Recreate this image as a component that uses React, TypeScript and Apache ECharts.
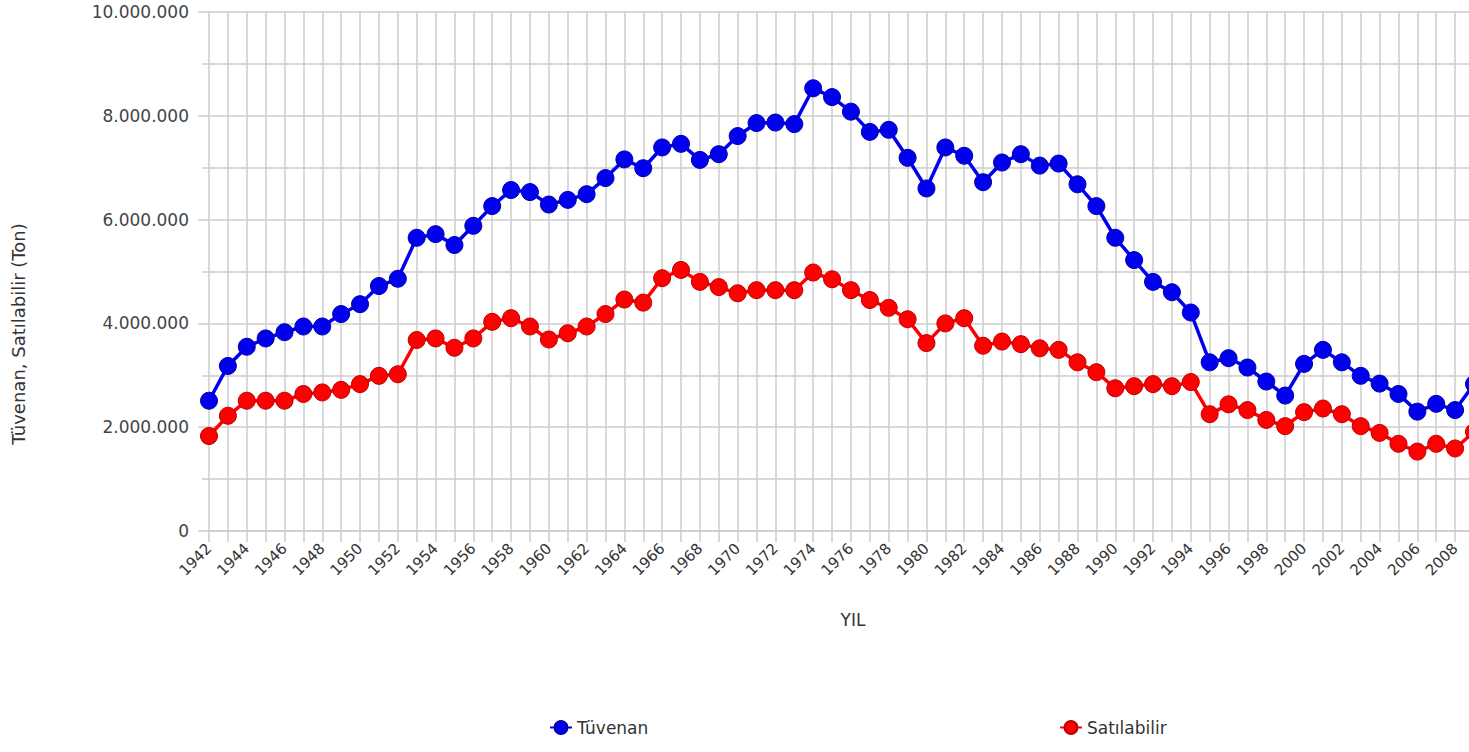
import React, { useEffect, useRef } from "react";
import * as echarts from "echarts";

const years: string[] = [];
for (let y = 1942; y <= 2009; y++) years.push(String(y));

const tuvenan = [
  2510000, 3180000, 3550000, 3710000, 3830000, 3940000, 3940000, 4180000, 4370000, 4720000,
  4860000, 5650000, 5720000, 5510000, 5880000, 6260000, 6570000, 6530000, 6290000, 6380000,
  6490000, 6800000, 7160000, 6990000, 7390000, 7460000, 7150000, 7260000, 7610000, 7860000,
  7870000, 7840000, 8530000, 8360000, 8080000, 7690000, 7730000, 7190000, 6600000, 7390000,
  7230000, 6720000, 7100000, 7260000, 7040000, 7080000, 6680000, 6260000, 5650000, 5220000,
  4800000, 4600000, 4210000, 3250000, 3330000, 3150000, 2880000, 2610000, 3220000, 3490000,
  3250000, 2990000, 2840000, 2640000, 2300000, 2450000, 2330000, 2830000,
];

const satilabilir = [
  1830000, 2220000, 2510000, 2510000, 2510000, 2640000, 2670000, 2720000, 2830000, 2990000,
  3020000, 3680000, 3710000, 3530000, 3710000, 4030000, 4100000, 3940000, 3690000, 3810000,
  3940000, 4180000, 4460000, 4400000, 4870000, 5030000, 4800000, 4700000, 4580000, 4640000,
  4640000, 4640000, 4980000, 4850000, 4640000, 4450000, 4300000, 4080000, 3620000, 4000000,
  4100000, 3570000, 3650000, 3600000, 3520000, 3490000, 3250000, 3060000, 2750000, 2790000,
  2830000, 2790000, 2870000, 2250000, 2440000, 2330000, 2140000, 2020000, 2290000, 2360000,
  2250000, 2020000, 1890000, 1680000, 1530000, 1680000, 1590000, 1910000,
];

const seriesNames = ["Tüvenan", "Satılabilir"];
const yTitle = "Tüvenan, Satılabilir (Ton)";
const xTitle = "YIL";

const FONT = "DejaVu Sans";
const GRID = "#cccccc";

function fmt(v: number): string {
  return String(Math.round(v)).replace(/\B(?=(\d{3})+(?!\d))/g, ".");
}

export default function App() {
  const ref = useRef<HTMLDivElement>(null);
  useEffect(() => {
    if (!ref.current) return;
    const chart = echarts.init(ref.current, undefined, { renderer: "svg" });
    chart.setOption({
      animation: false,
      backgroundColor: "#ffffff",
      textStyle: { fontFamily: FONT },
      grid: { left: 209, top: 12, width: 1265, bottom: 221, containLabel: false },
      legend: [
        {
          data: [seriesNames[0]],
          left: 544,
          top: 714,
          itemWidth: 22,
          itemHeight: 16,
          textStyle: { fontSize: 17, color: "#333", fontFamily: FONT },
        },
        {
          data: [seriesNames[1]],
          left: 1054,
          top: 714,
          itemWidth: 22,
          itemHeight: 16,
          textStyle: { fontSize: 17, color: "#333", fontFamily: FONT },
        },
      ],
      xAxis: {
        type: "category",
        data: years,
        boundaryGap: false,
        axisLine: { show: true, lineStyle: { color: GRID, width: 1.5 } },
        axisTick: { show: true, interval: 0, length: 11, lineStyle: { color: GRID, width: 1.5 } },
        axisLabel: {
          interval: 1,
          rotate: 45,
          margin: 15,
          fontSize: 15,
          color: "#333",
          fontFamily: FONT,
        },
        splitLine: { show: true, interval: 0, lineStyle: { color: GRID, width: 1.5 } },
      },
      yAxis: {
        type: "value",
        min: 0,
        max: 10000000,
        interval: 2000000,
        axisLine: { show: false },
        axisTick: { show: true, length: 11, lineStyle: { color: GRID, width: 1.5 } },
        minorTick: { show: true, splitNumber: 2, length: 7, lineStyle: { color: GRID, width: 1.5 } },
        minorSplitLine: { show: true, lineStyle: { color: GRID, width: 1.5 } },
        splitLine: { show: true, lineStyle: { color: GRID, width: 1.5 } },
        axisLabel: {
          margin: 20,
          fontSize: 17,
          color: "#444",
          fontFamily: FONT,
          formatter: (v: number) => fmt(v),
        },
      },
      graphic: [
        {
          type: "text",
          x: 18,
          y: 334,
          rotation: Math.PI / 2,
          style: {
            text: yTitle,
            fontSize: 18,
            fill: "#333",
            fontFamily: FONT,
            align: "center",
            verticalAlign: "middle",
          },
        },
        {
          type: "text",
          x: 853,
          y: 620,
          style: {
            text: xTitle,
            fontSize: 17,
            fill: "#333",
            fontFamily: FONT,
            align: "center",
            verticalAlign: "middle",
          },
        },
      ],
      series: [
        {
          name: seriesNames[0],
          type: "line",
          data: tuvenan,
          symbol: "circle",
          symbolSize: 17,
          showAllSymbol: true,
          lineStyle: { color: "#0000ee", width: 3.5 },
          itemStyle: { color: "#0000ee", borderColor: "#0000aa", borderWidth: 1 },
        },
        {
          name: seriesNames[1],
          type: "line",
          data: satilabilir,
          symbol: "circle",
          symbolSize: 17,
          showAllSymbol: true,
          lineStyle: { color: "#ff0000", width: 3.5 },
          itemStyle: { color: "#ff0000", borderColor: "#bb0000", borderWidth: 1 },
        },
      ],
    });
    return () => chart.dispose();
  }, []);
  return (
    <div
      style={{
        position: "fixed",
        left: 0,
        top: 0,
        width: 1469,
        height: 752,
        overflow: "hidden",
        background: "#fff",
      }}
    >
      <div ref={ref} style={{ width: 1500, height: 752 }} />
    </div>
  );
}
